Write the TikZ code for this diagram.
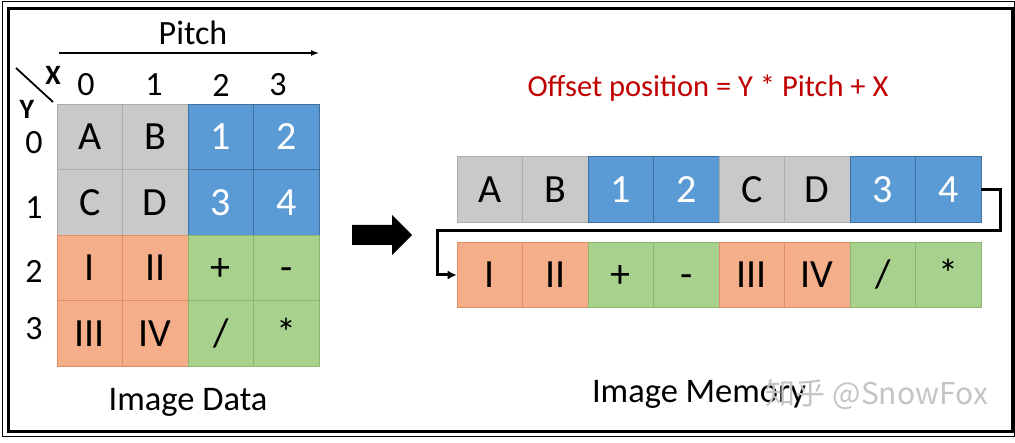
\documentclass[tikz,border=0pt]{standalone}
\usepackage{fontspec}
\setmainfont{Carlito}
\newfontfamily\cjkfont{Noto Sans CJK SC}
\usetikzlibrary{arrows.meta}
\definecolor{cellgrey}{RGB}{201,201,201}
\definecolor{edgegrey}{RGB}{172,172,172}
\definecolor{cellblue}{RGB}{91,155,213}
\definecolor{edgeblue}{RGB}{65,113,156}
\definecolor{cellorange}{RGB}{244,174,138}
\definecolor{edgeorange}{RGB}{222,140,100}
\definecolor{cellgreen}{RGB}{169,209,142}
\definecolor{edgegreen}{RGB}{138,182,110}
\definecolor{offsetred}{RGB}{192,0,0}
\definecolor{markgrey}{RGB}{196,196,196}

\begin{document}
\begin{tikzpicture}[
    x=1pt,
    y=-1pt,
    >=Latex,
    cell/.style={
      draw,
      line width=0.6pt,
      minimum width=65.5pt,
      minimum height=65.5pt,
      inner sep=0pt,
      text height=26pt,
      text depth=0pt,
      font=\fontsize{40}{44}\selectfont
    },
    axis label/.style={
      inner sep=0pt,
      font=\fontsize{34}{38}\selectfont
    },
    corner label/.style={
      inner sep=0pt,
      font=\fontsize{28}{32}\selectfont\bfseries
    },
    caption/.style={
      anchor=base,
      inner sep=0pt,
      font=\fontsize{34.5}{40}\selectfont
    },
    link/.style={
      line width=3pt,
      line join=miter
    }
]
\useasboundingbox (0,0) rectangle (1015,443);

% Double frame round the whole figure.
\draw[line width=1pt] (2.5,1.5) rectangle (1014.5,436.5);
\draw[line width=3pt] (8.5,8.5) rectangle (1012,431.5);

% Image data grid, indexed by row and column.
\foreach \r/\c/\lab/\tone/\ink in {
  0/0/A/grey/black, 0/1/B/grey/black, 0/2/1/blue/white, 0/3/2/blue/white,
  1/0/C/grey/black, 1/1/D/grey/black, 1/2/3/blue/white, 1/3/4/blue/white,
  2/0/I/orange/black, 2/1/II/orange/black, 2/2/+/green/black, 2/3/-/green/black,
  3/0/III/orange/black, 3/1/IV/orange/black, 3/2/\slash/green/black, 3/3/*/green/black}{
  \node[cell, fill=cell\tone, draw=edge\tone, text=\ink] (g\r\c)
    at ({89.75+65.5*\c},{136.75+65.5*\r}) {\lab};
}

% Column and row indices.
\foreach \c/\x in {0/86,1/154,2/221,3/278}
  \node[axis label] (col\c) at (\x,85) {\c};
\foreach \r/\y in {0/143,1/208,2/271,3/329}
  \node[axis label] (row\r) at (34,\y) {\r};

\node[corner label] (xlab) at (53,75) {X};
\node[corner label] (ylab) at (27,109) {Y};
\coordinate (slash top) at (16,68);
\coordinate (slash bottom) at (53,102);
\draw[line width=1.8pt] (slash top) -- (slash bottom);

\node[anchor=base, inner sep=0pt, font=\fontsize{34}{40}\selectfont]
  (pitch) at (193,45) {Pitch};
\coordinate (pitch start) at (59,53);
\coordinate (pitch end) at (319,53);
\draw[line width=1.3pt,-{Latex[length=8pt,width=6pt]}]
  (pitch start) -- (pitch end);

\node[caption] (data) at (188,411) {Image Data};

% Block arrow from the grid to the memory layout.
\fill (352,225) -- (392,225) -- (392,215) -- (412,235)
  -- (392,255) -- (392,245) -- (352,245) -- cycle;

% Linear memory, first two rows then the last two.
\node[anchor=base, inner sep=0pt, text=offsetred,
  font=\fontsize{30.5}{35}\selectfont]
  (offset) at (708,97) {Offset position = Y * Pitch + X};

\foreach \i/\lab/\tone/\ink in {
  0/A/grey/black, 1/B/grey/black, 2/1/blue/white, 3/2/blue/white,
  4/C/grey/black, 5/D/grey/black, 6/3/blue/white, 7/4/blue/white}{
  \node[cell, fill=cell\tone, draw=edge\tone, text=\ink] (m\i)
    at ({489.75+65.5*\i},189.5) {\lab};
}
\foreach \i/\lab/\tone in {
  0/I/orange, 1/II/orange, 2/+/green, 3/-/green,
  4/III/orange, 5/IV/orange, 6/\slash/green, 7/*/green}{
  \node[cell, fill=cell\tone, draw=edge\tone] (n\i)
    at ({489.75+65.5*\i},275) {\lab};
}

\coordinate (wrap right) at (1000,231);
\coordinate (wrap left) at (437,231);
\draw[link,-{Latex[length=9pt,width=9pt]}]
  (m7.east) -| (wrap right) -- (wrap left) |- (n0.west);

\node[caption] (memory) at (699,403) {Image Memory};
\node[anchor=base, inner sep=0pt, text=markgrey,
  font=\cjkfont\fontsize{30}{36}\selectfont]
  (mark) at (877,405) {知乎 @SnowFox};

\end{tikzpicture}
\end{document}
